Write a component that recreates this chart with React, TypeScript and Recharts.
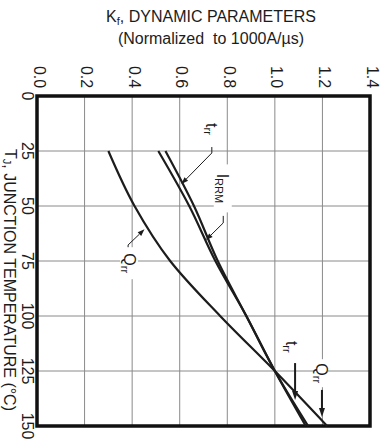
import { LineChart, Line, XAxis, YAxis, CartesianGrid, ReferenceArea, ReferenceLine, ReferenceDot } from "recharts"

// T_J (°C) vs normalized K_f values
const temps = [25, 50, 75, 100, 125, 150]
const trr = [0.51, 0.64, 0.75, 0.88, 1.0, 1.13]
const irrm = [0.54, 0.66, 0.76, 0.88, 1.0, 1.14]
const qrr = [0.3, 0.41, 0.56, 0.77, 1.0, 1.22]

const kTicks = [0, 0.2, 0.4, 0.6, 0.8, 1.0, 1.2, 1.4]
const tTicks = [0, 25, 50, 75, 100, 125, 150]

// curve labels (k, t in data units), w/h = white box behind the text
const labels = [
  { k: 0.735, t: 15, base: "t", sub: "rr", w: 14, h: 26 },
  { k: 0.781, t: 42, base: "I", sub: "RRM", w: 18, h: 48 },
  { k: 0.387, t: 76, base: "Q", sub: "rr", w: 18, h: 32 },
  { k: 1.068, t: 114, base: "t", sub: "rr", w: 12, h: 22 },
  { k: 1.194, t: 126, base: "Q", sub: "rr", w: 14, h: 28 },
]

// leader segments: [k1, t1, k2, t2, arrow, width]
const leaders: [number, number, number, number, boolean, number][] = [
  [0.735, 23.2, 0.735, 25.9, false, 1],
  [0.735, 25.9, 0.607, 40, true, 1],
  [0.783, 54.5, 0.783, 57.7, false, 1],
  [0.783, 57.7, 0.71, 65.5, true, 1],
  [0.383, 71.4, 0.383, 67.7, false, 1],
  [0.383, 67.7, 0.452, 60.6, true, 1],
  [1.085, 121.4, 1.085, 138.2, true, 2],
  [1.198, 133.6, 1.198, 145.9, true, 2],
]

const data = temps.map((t, i) => ({ t, trr: trr[i], irrm: irrm[i], qrr: qrr[i] }))

const FONT = "'Liberation Sans', Arial, sans-serif"
const INK = "#1c1c1c"

function KTick({ x, payload }: any) {
  return (
    <text transform={`translate(${x + 2}, 77) rotate(90)`} textAnchor="middle" dominantBaseline="central" fontSize={16} fill={INK} fontFamily={FONT}>
      {Number(payload.value).toFixed(1)}
    </text>
  )
}

function TTick({ y, payload }: any) {
  return (
    <text transform={`translate(27, ${y}) rotate(90)`} textAnchor="middle" dominantBaseline="central" fontSize={16} fill={INK} fontFamily={FONT}>
      {payload.value}
    </text>
  )
}

function leaderShape(arrow: boolean, width: number) {
  return (p: any) => {
    const { x1, y1, x2, y2 } = p
    const dx = x2 - x1
    const dy = y2 - y1
    const len = Math.hypot(dx, dy) || 1
    const ux = dx / len
    const uy = dy / len
    const s = width > 1 ? 9 : 7
    const hw = width > 1 ? 3 : 2.5
    const bx = x2 - ux * s
    const by = y2 - uy * s
    return (
      <g>
        <line x1={x1} y1={y1} x2={arrow ? bx : x2} y2={arrow ? by : y2} stroke={INK} strokeWidth={width} />
        {arrow && (
          <polygon points={`${x2},${y2} ${bx - uy * hw},${by + ux * hw} ${bx + uy * hw},${by - ux * hw}`} fill={INK} />
        )}
      </g>
    )
  }
}

function labelContent(base: string, sub: string, w: number, h: number) {
  return (p: any) => {
    const vb = p.viewBox || {}
    const cx = vb.x + (vb.width || 0) / 2
    const cy = vb.y + (vb.height || 0) / 2
    return (
      <g transform={`translate(${cx}, ${cy}) rotate(90)`}>
        <rect x={-h / 2} y={-w / 2} width={h} height={w} fill="#fff" />
        <text textAnchor="middle" dominantBaseline="central" fontSize={16} fill={INK} fontFamily={FONT}>
          {base}
          <tspan fontSize={11} dy={4}>{sub}</tspan>
        </text>
      </g>
    )
  }
}

export default function App() {
  return (
    <div style={{ position: "absolute", left: 0, top: 0, width: 381, height: 440, background: "#fff" }}>
      <svg width={381} height={60} style={{ position: "absolute", left: 0, top: 0 }}>
        <text x={211} y={22} textAnchor="middle" fontSize={16} fill={INK} fontFamily={FONT}>
          K<tspan fontSize={11} dy={3}>f</tspan>
          <tspan dy={-3}>, DYNAMIC PARAMETERS</tspan>
        </text>
        <text x={211} y={44} textAnchor="middle" fontSize={16} fill={INK} fontFamily={FONT} xmlSpace="preserve">
          (Normalized  to 1000A/µs)
        </text>
      </svg>
      <svg width={30} height={440} style={{ position: "absolute", left: 0, top: 0 }}>
        <text transform="translate(10, 280) rotate(90)" textAnchor="middle" dominantBaseline="central" fontSize={16} fill={INK} fontFamily={FONT}>
          T<tspan fontSize={11} dy={3}>J</tspan>
          <tspan dy={-3}>, JUNCTION TEMPERATURE (°C)</tspan>
        </text>
      </svg>
      <div style={{ position: "absolute", left: 0, top: 0 }}>
        <LineChart
          width={381}
          height={440}
          data={data}
          layout="vertical"
          margin={{ top: 66, right: 11, bottom: 14, left: 7 }}
        >
          <CartesianGrid stroke="#8a8a8a" strokeWidth={1} />
          <XAxis
            type="number"
            dataKey="trr"
            orientation="top"
            domain={[0, 1.4]}
            ticks={kTicks}
            height={30}
            axisLine={false}
            tickLine={false}
            tick={<KTick />}
            interval={0}
          />
          <YAxis
            type="number"
            dataKey="t"
            domain={[0, 150]}
            ticks={tTicks}
            width={30}
            axisLine={false}
            tickLine={false}
            tick={<TTick />}
            interval={0}
          />
          {labels.map((l, i) => (
            <ReferenceDot key={"l" + i} x={l.k} y={l.t} r={0} ifOverflow="visible" label={labelContent(l.base, l.sub, l.w, l.h)} />
          ))}
          {leaders.map((s, i) => (
            <ReferenceLine
              key={"s" + i}
              segment={[{ x: s[0], y: s[1] }, { x: s[2], y: s[3] }]}
              ifOverflow="visible"
              shape={leaderShape(s[4], s[5])}
            />
          ))}
          <Line type="monotone" dataKey="qrr" stroke={INK} strokeWidth={2.2} dot={false} isAnimationActive={false} />
          <Line type="monotone" dataKey="trr" stroke={INK} strokeWidth={2.2} dot={false} isAnimationActive={false} />
          <Line type="monotone" dataKey="irrm" stroke={INK} strokeWidth={2.2} dot={false} isAnimationActive={false} />
          <ReferenceArea x1={0} x2={1.4} y1={0} y2={150} fill="none" stroke="#111" strokeWidth={3.5} ifOverflow="visible" />
        </LineChart>
      </div>
    </div>
  )
}
